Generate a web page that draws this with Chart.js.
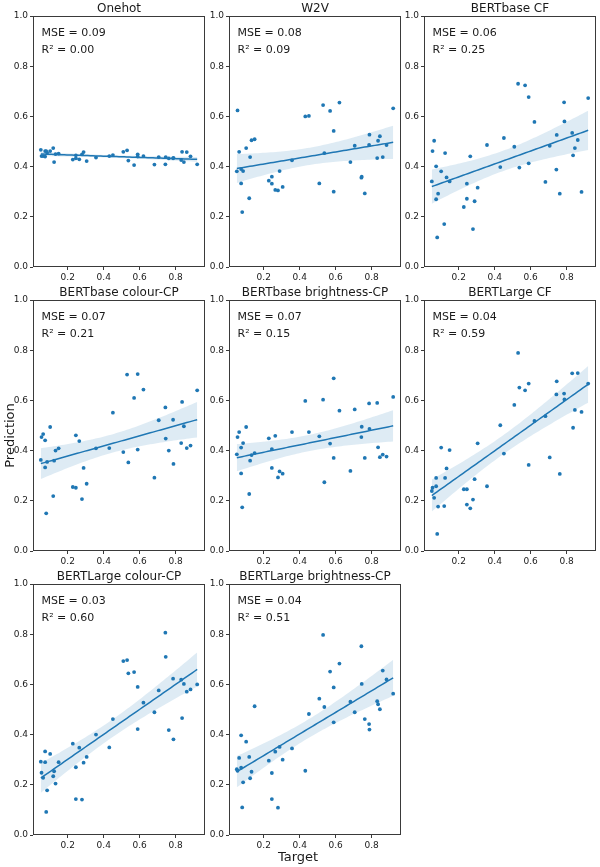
<!DOCTYPE html>
<html><head><meta charset="utf-8">
<script src="https://cdn.jsdelivr.net/npm/chart.js@4.4.1/dist/chart.umd.min.js"></script>
<style>
html,body{margin:0;padding:0;background:#fff;}
#fig{position:relative;width:600px;height:867px;overflow:hidden;background:#fff;}
canvas{position:absolute;}
</style></head><body><div id="fig"></div>
<script>
// ---------------- data ----------------
const targets = [0.050, 0.054, 0.063, 0.074, 0.074, 0.080, 0.085, 0.102, 0.119, 0.124, 0.132, 0.149, 0.228, 0.245, 0.245, 0.264, 0.279, 0.288, 0.305, 0.357, 0.431, 0.451, 0.509, 0.530, 0.537, 0.569, 0.589, 0.589, 0.621, 0.682, 0.706, 0.743, 0.745, 0.762, 0.786, 0.788, 0.831, 0.836, 0.846, 0.862, 0.883, 0.920];

const predOnehot = [0.467, 0.442, 0.442, 0.440, 0.462, 0.462, 0.455, 0.462, 0.474, 0.418, 0.450, 0.452, 0.428, 0.445, 0.433, 0.429, 0.449, 0.458, 0.422, 0.436, 0.442, 0.446, 0.459, 0.465, 0.424, 0.406, 0.449, 0.440, 0.442, 0.408, 0.438, 0.409, 0.438, 0.433, 0.433, 0.435, 0.426, 0.459, 0.418, 0.458, 0.441, 0.409];
const predW2V = [0.381, 0.624, 0.459, 0.390, 0.333, 0.219, 0.382, 0.474, 0.274, 0.438, 0.505, 0.509, 0.344, 0.360, 0.332, 0.307, 0.305, 0.382, 0.319, 0.425, 0.600, 0.602, 0.333, 0.645, 0.454, 0.622, 0.542, 0.300, 0.655, 0.418, 0.483, 0.356, 0.360, 0.293, 0.486, 0.527, 0.434, 0.503, 0.521, 0.438, 0.486, 0.632];
const predBertBaseCF = [0.341, 0.462, 0.503, 0.401, 0.270, 0.118, 0.292, 0.381, 0.171, 0.454, 0.357, 0.341, 0.239, 0.332, 0.272, 0.441, 0.151, 0.262, 0.316, 0.486, 0.398, 0.514, 0.479, 0.730, 0.396, 0.724, 0.677, 0.413, 0.578, 0.339, 0.483, 0.388, 0.526, 0.292, 0.656, 0.580, 0.534, 0.445, 0.474, 0.506, 0.299, 0.673];
const predBertBaseColourCP = [0.363, 0.454, 0.466, 0.441, 0.333, 0.150, 0.355, 0.494, 0.219, 0.360, 0.400, 0.409, 0.255, 0.252, 0.461, 0.438, 0.207, 0.331, 0.268, 0.409, 0.410, 0.551, 0.394, 0.703, 0.353, 0.610, 0.705, 0.404, 0.643, 0.292, 0.521, 0.572, 0.448, 0.400, 0.523, 0.347, 0.430, 0.594, 0.497, 0.410, 0.420, 0.640];
const predBertBaseBrightCP = [0.385, 0.454, 0.474, 0.412, 0.309, 0.174, 0.430, 0.494, 0.227, 0.360, 0.382, 0.390, 0.449, 0.331, 0.406, 0.459, 0.293, 0.317, 0.308, 0.474, 0.598, 0.474, 0.457, 0.603, 0.274, 0.428, 0.688, 0.371, 0.559, 0.319, 0.564, 0.454, 0.495, 0.371, 0.588, 0.486, 0.590, 0.413, 0.374, 0.384, 0.376, 0.614];
const predBertLargeCF = [0.239, 0.252, 0.212, 0.291, 0.258, 0.068, 0.177, 0.412, 0.179, 0.291, 0.329, 0.402, 0.246, 0.246, 0.185, 0.170, 0.205, 0.286, 0.429, 0.258, 0.501, 0.388, 0.582, 0.789, 0.651, 0.640, 0.667, 0.343, 0.518, 0.537, 0.373, 0.624, 0.676, 0.307, 0.627, 0.604, 0.708, 0.491, 0.562, 0.709, 0.554, 0.667];
const predBertLargeColourCP = [0.292, 0.248, 0.228, 0.290, 0.333, 0.092, 0.178, 0.323, 0.234, 0.254, 0.205, 0.290, 0.364, 0.270, 0.143, 0.348, 0.141, 0.288, 0.311, 0.400, 0.349, 0.462, 0.693, 0.697, 0.644, 0.649, 0.590, 0.422, 0.527, 0.489, 0.576, 0.806, 0.710, 0.418, 0.623, 0.381, 0.619, 0.466, 0.602, 0.571, 0.580, 0.600];
const predBertLargeBrightCP = [0.262, 0.256, 0.307, 0.397, 0.268, 0.110, 0.210, 0.372, 0.311, 0.226, 0.252, 0.513, 0.296, 0.143, 0.247, 0.332, 0.109, 0.351, 0.300, 0.345, 0.256, 0.482, 0.543, 0.797, 0.510, 0.651, 0.588, 0.449, 0.683, 0.531, 0.489, 0.752, 0.602, 0.462, 0.442, 0.420, 0.533, 0.521, 0.501, 0.655, 0.620, 0.563];

const panelTitles = ["Onehot", "W2V", "BERTbase CF", "BERTbase colour-CP", "BERTbase brightness-CP", "BERTLarge CF", "BERTLarge colour-CP", "BERTLarge brightness-CP"];
const mseLabels = ["0.09", "0.08", "0.06", "0.07", "0.07", "0.04", "0.03", "0.04"];
const r2Labels = ["0.00", "0.09", "0.25", "0.21", "0.15", "0.59", "0.60", "0.51"];
const xTicks = [0.2, 0.4, 0.6, 0.8];
const yTicks = [0.0, 0.2, 0.4, 0.6, 0.8, 1.0];
const yAxisLabel = "Prediction";
const xAxisLabel = "Target";

const predictions = [predOnehot, predW2V, predBertBaseCF, predBertBaseColourCP, predBertBaseBrightCP, predBertLargeCF, predBertLargeColourCP, predBertLargeBrightCP];

// ---------------- layout / style ----------------
const COL_LEFT = [33, 229, 424];
const ROW_TOP = [16, 300, 584];
const PLOT_W = 172, PLOT_H = 251;
const PAD_L = 32, PAD_T = 16, PAD_R = 4, X_AX_H = 20, PAD_B = 10;
const FONT = '"DejaVu Sans", "Liberation Sans", sans-serif';
const C0 = '#1f77b4';
const BAND = 'rgba(31,119,180,0.15)';
const SPINE = '#3a3a3a';
const TXT = '#1a1a1a';

const tMin = Math.min(...targets), tMax = Math.max(...targets);
const X_MIN = tMin - 0.05 * (tMax - tMin);
const X_MAX = tMax + 0.05 * (tMax - tMin);

// ordinary least squares fit with 95% confidence band (as in seaborn regplot)
function regression(xs, ys) {
  const n = xs.length;
  const mx = xs.reduce((s, v) => s + v, 0) / n;
  const my = ys.reduce((s, v) => s + v, 0) / n;
  let sxx = 0, sxy = 0;
  for (let i = 0; i < n; i++) { sxx += (xs[i] - mx) ** 2; sxy += (xs[i] - mx) * (ys[i] - my); }
  const b = sxy / sxx, a = my - b * mx;
  let sse = 0;
  for (let i = 0; i < n; i++) sse += (ys[i] - (a + b * xs[i])) ** 2;
  const s = Math.sqrt(sse / (n - 2));
  const tq = 2.021;
  const line = [], upper = [], lower = [];
  const steps = 60;
  for (let k = 0; k <= steps; k++) {
    const x = tMin + (tMax - tMin) * k / steps;
    const yh = a + b * x;
    const h = tq * s * Math.sqrt(1 / n + (x - mx) ** 2 / sxx);
    line.push({x, y: yh}); upper.push({x, y: yh + h}); lower.push({x, y: yh - h});
  }
  return {line, upper, lower};
}

const decor = {
  id: 'panelDecor',
  afterDraw(chart, args, o) {
    const {ctx, chartArea: a} = chart;
    ctx.save();
    ctx.strokeStyle = SPINE; ctx.lineWidth = 1;
    ctx.strokeRect(a.left + 0.5, a.top + 0.5, a.width - 1, a.height - 1);
    ctx.fillStyle = TXT;
    ctx.textBaseline = 'alphabetic';
    ctx.font = '12px ' + FONT;
    ctx.textAlign = 'center';
    ctx.fillText(o.title, (a.left + a.right) / 2, a.top - 4);
    ctx.font = '11px ' + FONT;
    ctx.textAlign = 'left';
    ctx.fillText('MSE = ' + o.mse, a.left + 8.5, a.top + 20);
    ctx.fillText('R\u00B2 = ' + o.r2, a.left + 8.5, a.top + 37);
    if (o.ylabel) {
      ctx.font = '13px ' + FONT;
      ctx.save();
      ctx.translate(14 - o.offX, 435.5 - o.offY);
      ctx.rotate(-Math.PI / 2);
      ctx.textAlign = 'center';
      ctx.fillText(o.ylabel, 0, 0);
      ctx.restore();
    }
    if (o.xlabel) {
      ctx.font = '13px ' + FONT;
      ctx.textAlign = 'center';
      ctx.fillText(o.xlabel, 298 - o.offX, 860.5 - o.offY);
    }
    ctx.restore();
  }
};

const fig = document.getElementById('fig');
predictions.forEach((preds, i) => {
  const row = Math.floor(i / 3), col = i % 3;
  const cv = document.createElement('canvas');
  const w = PAD_L + PLOT_W + PAD_R, h = PAD_T + PLOT_H + X_AX_H + PAD_B;
  const offX = COL_LEFT[col] - PAD_L, offY = ROW_TOP[row] - PAD_T;
  cv.width = w; cv.height = h;
  cv.style.left = offX + 'px'; cv.style.top = offY + 'px';
  cv.style.width = w + 'px'; cv.style.height = h + 'px';
  fig.appendChild(cv);
  const pts = targets.map((x, k) => ({x, y: preds[k]}));
  const fit = regression(targets, preds);
  new Chart(cv, {
    type: 'scatter',
    data: {datasets: [
      {type: 'line', data: fit.line, borderColor: C0, borderWidth: 1.5, pointRadius: 0, fill: false, tension: 0},
      {type: 'scatter', data: pts, backgroundColor: C0, borderColor: C0, borderWidth: 0, pointRadius: 1.9},
      {type: 'line', data: fit.upper, borderColor: 'rgba(0,0,0,0)', borderWidth: 1, pointRadius: 0, backgroundColor: BAND, fill: '+1', tension: 0},
      {type: 'line', data: fit.lower, borderColor: 'rgba(0,0,0,0)', borderWidth: 1, pointRadius: 0, fill: false, tension: 0}
    ]},
    options: {
      responsive: false, animation: false, devicePixelRatio: 1,
      events: [],
      layout: {padding: {top: PAD_T, left: 0, right: PAD_R, bottom: PAD_B}},
      plugins: {
        legend: {display: false}, tooltip: {enabled: false}, title: {display: false},
        panelDecor: {title: panelTitles[i], mse: mseLabels[i], r2: r2Labels[i],
          ylabel: i === 3 ? yAxisLabel : null, xlabel: i === 7 ? xAxisLabel : null, offX, offY}
      },
      scales: {
        x: {type: 'linear', min: X_MIN, max: X_MAX,
          afterBuildTicks: s => { s.ticks = xTicks.map(v => ({value: v})); },
          afterFit: s => { s.height = X_AX_H; },
          ticks: {font: {family: FONT, size: 9}, color: TXT, padding: 2, maxRotation: 0, autoSkip: false, callback: v => Number(v).toFixed(1)},
          grid: {drawOnChartArea: false, drawTicks: true, tickLength: 3, color: SPINE, lineWidth: 1},
          border: {display: false}
        },
        y: {type: 'linear', min: 0, max: 1,
          afterBuildTicks: s => { s.ticks = yTicks.map(v => ({value: v})); },
          afterFit: s => { s.width = PAD_L; },
          ticks: {font: {family: FONT, size: 9}, color: TXT, padding: 2, autoSkip: false, callback: v => Number(v).toFixed(1)},
          grid: {drawOnChartArea: false, drawTicks: true, tickLength: 3, color: SPINE, lineWidth: 1},
          border: {display: false}
        }
      }
    },
    plugins: [decor]
  });
});
</script></body></html>
